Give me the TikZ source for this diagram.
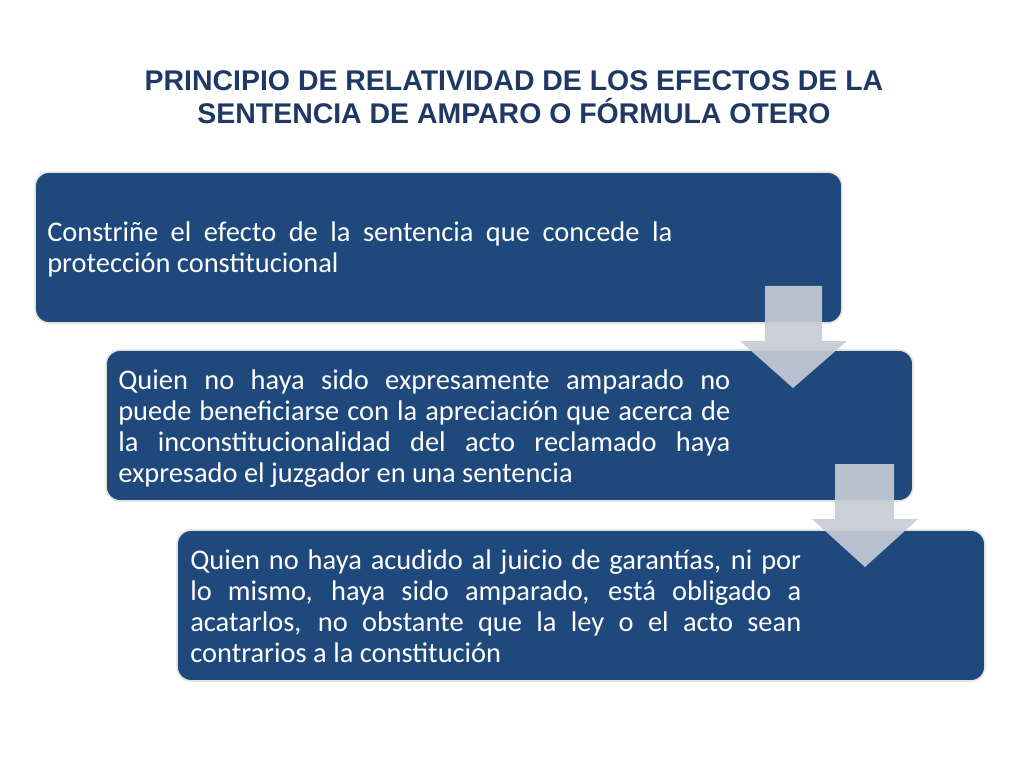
\documentclass[tikz,border=0pt]{standalone}
\usepackage{fontspec}
\setmainfont{Carlito}
\newfontfamily\titlefont{Liberation Sans}
\definecolor{boxblue}{HTML}{1F497D}
\definecolor{titleblue}{HTML}{1F3864}
\definecolor{arrowgray}{HTML}{C6CBD5}
\definecolor{edgegray}{HTML}{E4E6DE}
\begin{document}
\begin{tikzpicture}[x=0.703125pt,y=-0.703125pt,
  stepbox/.style={fill=boxblue,draw=edgegray,line width=1.2pt,rounded corners=10pt},
  bodytext/.style={text=white,align=justify,anchor=north west,inner sep=0pt,
    font=\fontsize{20}{21.9}\selectfont},
  downarrow/.style={fill=arrowgray,fill opacity=0.92,draw=none}]
\useasboundingbox (0,0) rectangle (1024,768);
\fill[white] (0,0) rectangle (1024,768);
% title
\node[text=titleblue,font=\titlefont\bfseries\fontsize{20}{23.5}\selectfont,align=center] (title) at (514,97)
  {PRINCIPIO DE RELATIVIDAD DE LOS EFECTOS DE LA\\SENTENCIA DE AMPARO O FÓRMULA OTERO};
% boxes
\draw[stepbox] (35,172) rectangle (842,323);
\draw[stepbox] (106,350) rectangle (913,501);
\draw[stepbox] (177,530) rectangle (985,681);
% texts
\node[bodytext,text width=625*0.703125pt] (t1) at (47,221)
  {Constriñe el efecto de la sentencia que concede la\linebreak protección constitucional};
\node[bodytext,text width=612*0.703125pt] (t2) at (118,369)
  {Quien no haya sido expresamente amparado no\linebreak puede beneficiarse con la apreciación que acerca de\linebreak la inconstitucionalidad del acto reclamado haya\linebreak expresado el juzgador en una sentencia};
\node[bodytext,text width=611*0.703125pt] (t3) at (190,549)
  {Quien no haya acudido al juicio de garantías, ni por\linebreak lo mismo, haya sido amparado, está obligado a\linebreak acatarlos, no obstante que la ley o el acto sean\linebreak contrarios a la constitución};
% arrows
\path[downarrow] (765,286) -- (822,286) -- (822,341) -- (847,341) -- (793,388) -- (740,341) -- (765,341) -- cycle;
\path[downarrow] (835,464) -- (894,464) -- (894,519) -- (918,519) -- (865,567) -- (812,519) -- (835,519) -- cycle;
\end{tikzpicture}
\end{document}
